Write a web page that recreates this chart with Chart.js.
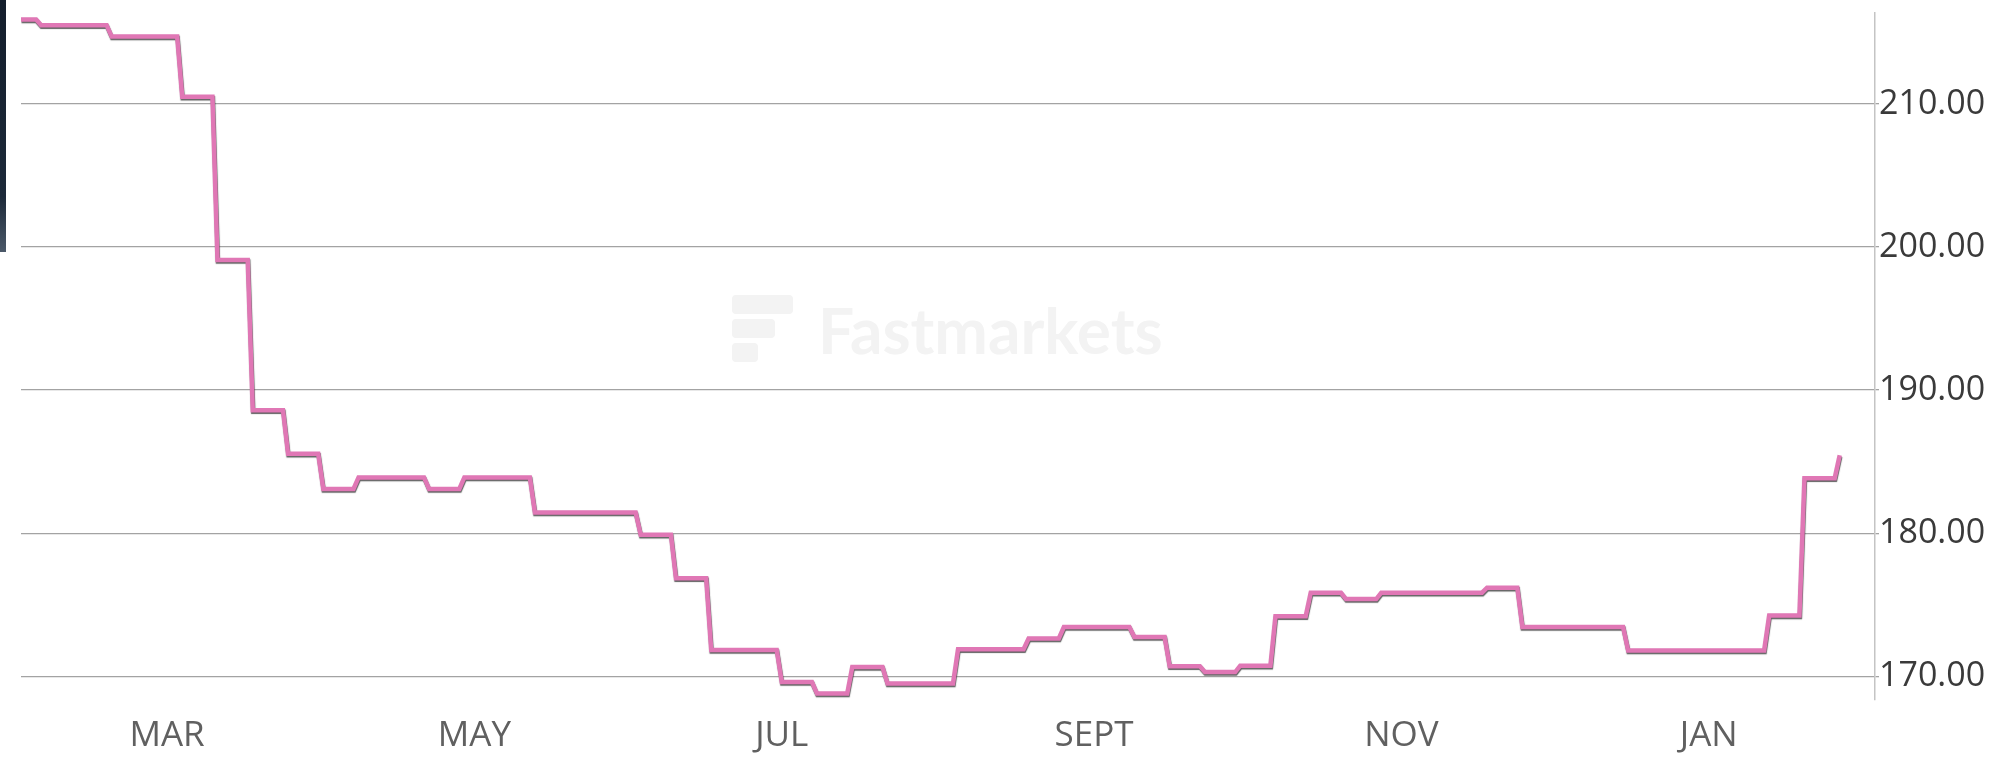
<!DOCTYPE html>
<html>
<head>
<meta charset="utf-8">
<script src="https://cdn.jsdelivr.net/npm/chart.js@4.4.1/dist/chart.umd.min.js"></script>
<style>
  html, body { margin: 0; padding: 0; background: #fff; }
  #wrap { position: relative; width: 2010px; height: 757px; }
  #edge { position: absolute; left: 0; top: 0; width: 6px; height: 252px;
          background: linear-gradient(#141e2c 0%, #1c2939 78%, #4b5969 100%); }
</style>
</head>
<body>
<div id="wrap">
  <canvas id="chart-area"></canvas>
  <div id="edge"></div>
</div>
<script>
// weekly assessments (first point is the start of the window)
var assessDates = [
    '2022-01-31', '2022-02-04', '2022-02-11', '2022-02-18', '2022-02-25',
    '2022-03-04', '2022-03-11', '2022-03-18', '2022-03-25', '2022-04-01',
    '2022-04-08', '2022-04-15', '2022-04-22', '2022-04-29', '2022-05-06',
    '2022-05-13', '2022-05-20', '2022-05-27', '2022-06-03', '2022-06-10',
    '2022-06-17', '2022-06-24', '2022-07-01', '2022-07-08', '2022-07-15',
    '2022-07-22', '2022-07-29', '2022-08-05', '2022-08-12', '2022-08-19',
    '2022-08-26', '2022-09-02', '2022-09-09', '2022-09-16', '2022-09-23',
    '2022-09-30', '2022-10-07', '2022-10-14', '2022-10-21', '2022-10-28',
    '2022-11-04', '2022-11-11', '2022-11-18', '2022-11-25', '2022-12-02',
    '2022-12-09', '2022-12-16', '2022-12-23', '2022-12-30', '2023-01-06',
    '2023-01-13', '2023-01-20', '2023-01-27'
];
var prices = [
    215.9, 215.5, 215.5, 214.7, 214.7,
    210.5, 199.1, 188.6, 185.55, 183.1,
    183.9, 183.9, 183.1, 183.9, 183.9,
    181.45, 181.45, 181.45, 179.9, 176.85,
    171.85, 171.85, 169.6, 168.8, 170.65,
    169.5, 169.5, 171.9, 171.9, 172.65,
    173.45, 173.45, 172.75, 170.7, 170.3,
    170.75, 174.2, 175.85, 175.4, 175.85,
    175.85, 175.85, 176.2, 173.45, 173.45,
    173.45, 171.8, 171.8, 171.8, 171.8,
    174.25, 183.85, 185.45
];
var monthTicks = ['2022-03-01', '2022-05-01', '2022-07-01', '2022-09-01', '2022-11-01', '2023-01-01'];
var monthLabels = ['MAR', 'MAY', 'JUL', 'SEPT', 'NOV', 'JAN'];
var priceTicks = [170, 180, 190, 200, 210];
var rangeStart = '2022-01-31';
var rangeEnd = '2023-02-03';

var DAY = 86400000;
var toTime = function (s) {
    var p = s.split('-');
    return Date.UTC(+p[0], +p[1] - 1, +p[2]);
};

// each price holds until the day before the next assessment
var points = [];
assessDates.forEach(function (d, i) {
    var t = toTime(d);
    if (i > 0) {
        points.push({x: t - DAY, y: prices[i - 1]});
    }
    points.push({x: t, y: prices[i]});
});

var watermark = {
    id: 'watermark',
    beforeDatasetsDraw: function (chart) {
        var ctx = chart.ctx;
        ctx.save();
        ctx.fillStyle = '#f3f3f3';
        ctx.beginPath();
        ctx.roundRect(732, 295, 61, 19, 4);
        ctx.roundRect(732, 319, 43, 19, 4);
        ctx.roundRect(732, 343, 26, 19, 4);
        ctx.fill();
        ctx.font = 'bold 64px Lato';
        ctx.textBaseline = 'alphabetic';
        ctx.fillText('Fastmarkets', 818, 354, 348);
        ctx.restore();
    }
};

var lineShadow = {
    id: 'lineShadow',
    beforeDatasetDraw: function (chart) {
        var ctx = chart.ctx;
        ctx.save();
        ctx.shadowColor = 'rgba(30, 30, 30, 0.7)';
        ctx.shadowOffsetX = 0.5;
        ctx.shadowOffsetY = 1.5;
        ctx.shadowBlur = 1;
    },
    afterDatasetDraw: function (chart) {
        chart.ctx.restore();
    }
};

var ctx = "chart-area";
window.chart = new Chart(ctx, {
    type: "line",
    data: {
        datasets: [{
            data: points,
            borderColor: '#e077b5',
            borderWidth: 4.5,
            pointRadius: 0,
            tension: 0,
            fill: false
        }]
    },
    options: {
        responsive: true,
        maintainAspectRatio: false,
        animation: false,
        layout: {padding: {left: 21, top: 13, right: 0, bottom: 0}},
        plugins: {legend: {display: false}, tooltip: {enabled: false}},
        scales: {
            x: {
                type: 'linear',
                min: toTime(rangeStart),
                max: toTime(rangeEnd),
                afterBuildTicks: function (scale) {
                    scale.ticks = monthTicks.map(function (m) {
                        return {value: toTime(m)};
                    });
                },
                afterFit: function (scale) {
                    scale.height = 57;
                },
                grid: {display: false, drawTicks: false},
                border: {display: false},
                ticks: {
                    autoSkip: false,
                    maxRotation: 0,
                    padding: 15,
                    color: '#606060',
                    font: {family: 'Open Sans', size: 35},
                    callback: function (value, index) {
                        return monthLabels[index];
                    }
                }
            },
            y: {
                position: 'right',
                min: 168.35,
                max: 216.35,
                afterBuildTicks: function (scale) {
                    scale.ticks = priceTicks.map(function (v) {
                        return {value: v};
                    });
                },
                afterFit: function (scale) {
                    scale.width = 135;
                    scale.paddingTop = 0;
                    scale.paddingBottom = 0;
                },
                grid: {color: '#a3a3a3', lineWidth: 1.3, tickLength: 4},
                border: {display: true, color: '#c4c4c4', width: 1.5},
                ticks: {
                    padding: 0,
                    color: '#3a3a3a',
                    font: {family: 'Open Sans', size: 34},
                    callback: function (value) {
                        return value.toFixed(2);
                    }
                }
            }
        }
    },
    plugins: [watermark, lineShadow]
});
</script>
</body>
</html>
